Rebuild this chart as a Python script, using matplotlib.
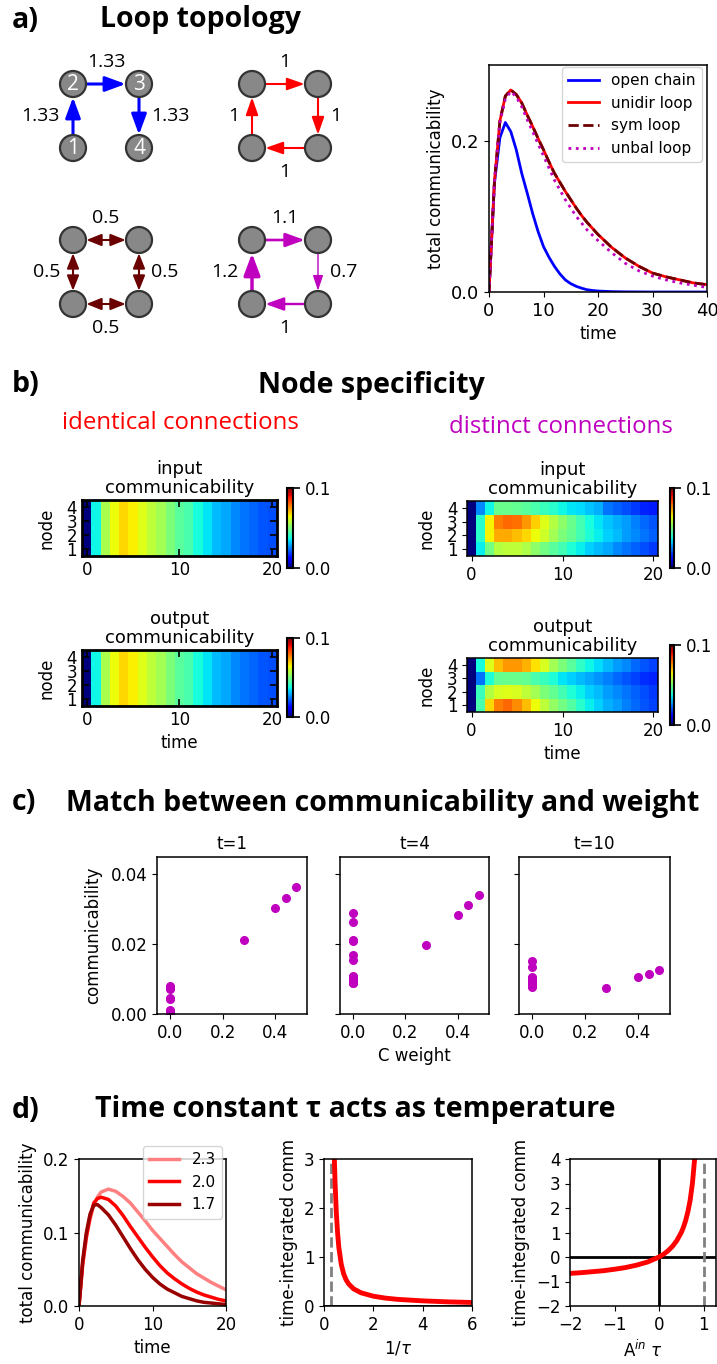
import matplotlib
matplotlib.use('Agg')
import matplotlib.pyplot as plt
from matplotlib.patches import Circle
import numpy as np

W, H = 717, 1364

# ---------------- data ----------------
# a) total communicability vs time
t_a = [0, 1, 2, 3, 4, 5, 6, 7, 8, 9, 10, 11, 12, 13, 14, 15, 16, 17, 18, 19, 20,
       22.5, 25, 27.5, 30, 32.5, 35, 37.5, 40]
open_chain = [0, 0.144, 0.204, 0.224, 0.212, 0.188, 0.157, 0.131, 0.104, 0.080, 0.060,
              0.046, 0.034, 0.024, 0.016, 0.011, 0.0075, 0.005, 0.003, 0.002, 0.0013,
              0.0005, 0.0002, 0.0001, 0, 0, 0, 0, 0]
unidir_loop = [0, 0.146, 0.226, 0.259, 0.267, 0.261, 0.250, 0.234, 0.219, 0.203, 0.188,
               0.172, 0.157, 0.145, 0.133, 0.122, 0.111, 0.101, 0.092, 0.084, 0.076,
               0.059, 0.045, 0.034, 0.025, 0.020, 0.016, 0.012, 0.0097]
sym_loop = [0, 0.146, 0.226, 0.259, 0.267, 0.261, 0.250, 0.234, 0.219, 0.203, 0.188,
            0.172, 0.157, 0.145, 0.133, 0.122, 0.111, 0.101, 0.092, 0.084, 0.076,
            0.059, 0.045, 0.034, 0.025, 0.020, 0.016, 0.012, 0.0097]
unbal_loop = [0, 0.146, 0.224, 0.255, 0.265, 0.258, 0.245, 0.228, 0.212, 0.196, 0.180,
              0.164, 0.148, 0.135, 0.122, 0.111, 0.100, 0.091, 0.082, 0.075, 0.068,
              0.052, 0.038, 0.028, 0.021, 0.016, 0.012, 0.009, 0.006]

# a) graph edges: (source, target, label, side, linewidth); corners 0=BL 1=TL 2=TR 3=BR
chain_edges = [(0, 1, '1.33', 'left', 2.2), (1, 2, '1.33', 'top', 2.2), (2, 3, '1.33', 'right', 2.2)]
unidir_edges = [(0, 1, '1', 'left', 1.5), (1, 2, '1', 'top', 1.5),
                (2, 3, '1', 'right', 1.5), (3, 0, '1', 'bottom', 1.5)]
sym_edges = [(0, 1, '0.5', 'left', 1.5), (1, 2, '0.5', 'top', 1.5),
             (2, 3, '0.5', 'right', 1.5), (3, 0, '0.5', 'bottom', 1.5)]
unbal_edges = [(0, 1, '1.2', 'left', 2.5), (1, 2, '1.1', 'top', 1.9),
               (2, 3, '0.7', 'right', 1.0), (3, 0, '1', 'bottom', 1.7)]
chain_node_names = ['1', '2', '3', '4']

# b) node communicability (rows = node 1..4, columns = time 0..20)
ident_col = [0, 0.037, 0.0555, 0.064, 0.068, 0.0655, 0.062, 0.058, 0.055, 0.050, 0.046,
             0.044, 0.038, 0.035, 0.031, 0.029, 0.026, 0.024, 0.0225, 0.021, 0.020]
dist_in = [
    [0, 0.036, 0.049, 0.057, 0.058, 0.058, 0.056, 0.052, 0.049, 0.046, 0.043,
     0.039, 0.036, 0.033, 0.031, 0.029, 0.026, 0.024, 0.022, 0.020, 0.018],
    [0, 0.040, 0.065, 0.073, 0.073, 0.071, 0.068, 0.064, 0.060, 0.055, 0.050,
     0.047, 0.043, 0.039, 0.036, 0.033, 0.031, 0.028, 0.026, 0.024, 0.022],
    [0, 0.040, 0.065, 0.0775, 0.080, 0.079, 0.075, 0.069, 0.062, 0.057, 0.052,
     0.048, 0.043, 0.038, 0.035, 0.032, 0.030, 0.028, 0.025, 0.023, 0.021],
    [0, 0.026, 0.037, 0.048, 0.048, 0.047, 0.046, 0.044, 0.042, 0.040, 0.037,
     0.035, 0.034, 0.032, 0.030, 0.024, 0.022, 0.020, 0.018, 0.016, 0.015],
]
dist_out = [
    [0, 0.044, 0.068, 0.0775, 0.080, 0.076, 0.071, 0.064, 0.058, 0.053, 0.049,
     0.045, 0.040, 0.036, 0.033, 0.030, 0.028, 0.025, 0.023, 0.021, 0.019],
    [0, 0.042, 0.057, 0.061, 0.062, 0.061, 0.058, 0.055, 0.050, 0.047, 0.043,
     0.039, 0.036, 0.033, 0.031, 0.028, 0.026, 0.024, 0.022, 0.020, 0.018],
    [0, 0.024, 0.039, 0.047, 0.048, 0.048, 0.047, 0.044, 0.042, 0.039, 0.035,
     0.033, 0.031, 0.029, 0.027, 0.025, 0.023, 0.021, 0.019, 0.017, 0.016],
    [0, 0.038, 0.062, 0.071, 0.075, 0.075, 0.072, 0.067, 0.061, 0.055, 0.050,
     0.046, 0.041, 0.037, 0.034, 0.031, 0.028, 0.026, 0.023, 0.021, 0.019],
]

# c) communicability vs C weight
c_titles = ['t=1', 't=4', 't=10']
c_weight = [0, 0, 0, 0, 0, 0, 0, 0, 0, 0, 0, 0, 0.28, 0.40, 0.44, 0.48]
comm_t1 = [0.0079, 0.0075, 0.0071, 0.0045, 0.0043, 0.0012, 0.0009, 0.0006,
           0.0004, 0.0003, 0.0002, 0.0001, 0.0212, 0.0303, 0.0333, 0.0364]
comm_t4 = [0.0290, 0.0263, 0.0212, 0.0210, 0.0169, 0.0155, 0.0110, 0.0105,
           0.0100, 0.0095, 0.0090, 0.0088, 0.0199, 0.0284, 0.0312, 0.0341]
comm_t10 = [0.0153, 0.0136, 0.0107, 0.0102, 0.0097, 0.0093, 0.0090, 0.0088,
            0.0085, 0.0082, 0.0080, 0.0078, 0.0074, 0.0106, 0.0115, 0.0126]

# d) time constant
t_d = [0, 0.5, 1, 1.5, 2, 2.5, 3, 4, 5, 6, 7, 8, 9, 10, 11, 12, 13, 14, 15, 16, 17, 18, 19, 20]
tau_labels = ['2.3', '2.0', '1.7']
comm_tau23 = [0, 0.055, 0.092, 0.118, 0.137, 0.148, 0.155, 0.159, 0.156, 0.149, 0.140,
              0.128, 0.116, 0.103, 0.092, 0.081, 0.070, 0.060, 0.052, 0.044, 0.038,
              0.032, 0.027, 0.022]
comm_tau20 = [0, 0.058, 0.095, 0.121, 0.140, 0.146, 0.148, 0.145, 0.136, 0.123, 0.108,
              0.094, 0.080, 0.067, 0.055, 0.045, 0.037, 0.030, 0.024, 0.019, 0.015,
              0.012, 0.009, 0.007]
comm_tau17 = [0, 0.062, 0.100, 0.125, 0.137, 0.138, 0.134, 0.124, 0.110, 0.094, 0.078,
              0.063, 0.050, 0.039, 0.030, 0.023, 0.018, 0.013, 0.010, 0.007, 0.005,
              0.004, 0.003, 0.002]
inv_tau = [0.42, 0.45, 0.5, 0.55, 0.6, 0.7, 0.8, 0.9, 1.0, 1.2, 1.5, 2.0, 2.5, 3.0, 4.0, 5.0, 6.0]
integ_inv_tau = [3.0, 2.5, 1.9, 1.5, 1.2, 0.85, 0.65, 0.53, 0.45, 0.35, 0.27, 0.20, 0.16,
                 0.135, 0.105, 0.085, 0.072]
a_tau = [-2, -1.75, -1.5, -1.25, -1, -0.75, -0.5, -0.25, 0, 0.1, 0.2, 0.3, 0.4, 0.5,
         0.55, 0.6, 0.65, 0.7, 0.75, 0.8]
integ_a_tau = [-0.67, -0.64, -0.6, -0.56, -0.5, -0.43, -0.33, -0.2, 0, 0.11, 0.25, 0.43,
               0.67, 1.0, 1.22, 1.5, 1.86, 2.33, 3.0, 4.0]

maroon = '#6b0000'
# ---------------------------------------

plt.rcParams['font.family'] = ['DejaVu Sans']
plt.rcParams['font.size'] = 12
plt.rcParams['axes.linewidth'] = 1.1

fig = plt.figure(figsize=(W / 100, H / 100), dpi=100)


def px_axes(l, t, r, b):
    return fig.add_axes([l / W, 1 - b / H, (r - l) / W, (b - t) / H])


def px_text(x, y, s, **kw):
    fig.text(x / W, 1 - y / H, s, **kw)


def heading(y, letter, title, xc):
    px_text(12, y, letter, fontsize=20.5, fontweight='bold', family='Open Sans', va='center')
    px_text(xc, y, title, fontsize=20.5, fontweight='bold', family='Open Sans',
            va='center', ha='center')


# ---------- a) ----------
heading(20, 'a)', 'Loop topology', 201)

axg = px_axes(0, 40, 360, 350)
axg.set_xlim(0, 360)
axg.set_ylim(350, 40)
axg.axis('off')

dx, dy = 66, 64
corner = {0: (0, 1), 1: (0, 0), 2: (1, 0), 3: (1, 1)}
graphs = [((73, 84), chain_edges, 'blue', '-|>', True),
          ((252, 84), unidir_edges, 'red', '-|>', False),
          ((73, 240), sym_edges, maroon, '<|-|>', False),
          ((252, 240), unbal_edges, 'm', '-|>', False)]
for (x0, y0), edges, col, style, named in graphs:
    pos = {k: (x0 + cx * dx, y0 + cy * dy) for k, (cx, cy) in corner.items()}
    for k, (px, py) in pos.items():
        axg.add_patch(Circle((px, py), 13, facecolor='#888888', edgecolor='#333333',
                             lw=1.6, zorder=3))
    if named:
        for k, name in zip([0, 1, 2, 3], chain_node_names):
            axg.text(*pos[k], name, color='white', fontsize=15, family='Open Sans',
                     ha='center', va='center', zorder=4)
    for s, d, lab, side, lw in edges:
        if style == '<|-|>':
            hl, hw = 0.75, 0.3
        else:
            hl = 0.55 + 0.22 * lw
            hw = 0.16 + 0.1 * lw
        axg.annotate('', xy=pos[d], xytext=pos[s],
                     arrowprops=dict(arrowstyle='%s,head_length=%.2f,head_width=%.2f' % (style, hl, hw),
                                     color=col, lw=lw, mutation_scale=12,
                                     shrinkA=9.6, shrinkB=9.6), zorder=2)
        xa, xb = x0, x0 + dx
        ya, yb = y0, y0 + dy
        kw = dict(va='center', fontsize=14, family='Open Sans')
        if side == 'top':
            axg.text((xa + xb) / 2, ya - 22, lab, ha='center', **kw)
        elif side == 'bottom':
            axg.text((xa + xb) / 2, yb + 24, lab, ha='center', **kw)
        elif side == 'left':
            axg.text(xa - 13, (ya + yb) / 2, lab, ha='right', **kw)
        else:
            axg.text(xb + 12, (ya + yb) / 2, lab, ha='left', **kw)

ax = px_axes(489, 65, 707, 292)
ax.plot(t_a, open_chain, color='blue', lw=2, label='open chain')
ax.plot(t_a, unidir_loop, color='red', lw=2, label='unidir loop')
ax.plot(t_a, sym_loop, color=maroon, lw=2, ls='--', label='sym loop')
ax.plot(t_a, unbal_loop, color='m', lw=2, ls=':', label='unbal loop')
ax.set_xlim(0, 40)
ax.set_ylim(0, 0.3)
ax.set_xticks([0, 10, 20, 30, 40])
ax.set_yticks([0, 0.2])
ax.set_yticklabels(['0.0', '0.2'])
ax.tick_params(labelsize=13)
ax.set_xlabel('time')
ax.set_ylabel('total communicability')
ax.legend(loc='upper right', bbox_to_anchor=(1.01, 1.025), fontsize=11)

# ---------- b) ----------
heading(385, 'b)', 'Node specificity', 371)
px_text(180, 423, 'identical connections', color='red', fontsize=17.3, family='Open Sans',
        ha='center', va='center')
px_text(561, 427, 'distinct connections', color='m', fontsize=17.3, family='Open Sans',
        ha='center', va='center')

ident = np.tile(ident_col, (4, 1))
heat_specs = [((82, 500, 277, 556), (287, 488, 293, 568), ident, 'input', True, False),
              ((82, 650, 277, 706), (287, 638, 293, 717), ident, 'output', True, True),
              ((467, 501, 658, 556), (670, 488, 674, 568), np.array(dist_in), 'input', False, False),
              ((467, 658, 658, 712), (670, 645, 674, 725), np.array(dist_out), 'output', False, True)]
for box, cbox, data, kind, inward, bottom in heat_specs:
    ax = px_axes(*box)
    im = ax.imshow(data, cmap='jet', vmin=0, vmax=0.1, aspect='auto', origin='lower',
                   extent=(-0.5, 20.5, 0.5, 4.5), interpolation='nearest')
    ax.set_xticks([0, 10, 20])
    ax.set_yticks([1, 2, 3, 4])
    ax.set_ylabel('node', labelpad=8)
    ax.set_title(kind + '\ncommunicability', fontsize=13, pad=5, linespacing=1.05)
    if inward:
        ax.tick_params(direction='in', top=True, right=True, length=5, width=1.2)
        for sp in ax.spines.values():
            sp.set_linewidth(2)
    if bottom:
        ax.set_xlabel('time')
    cax = px_axes(*cbox)
    cb = fig.colorbar(im, cax=cax, ticks=[0, 0.1])
    cb.ax.set_yticklabels(['0.0', '0.1'])
    cb.ax.tick_params(length=5, width=1.2)
    cb.outline.set_linewidth(1.5)

# ---------- c) ----------
heading(803, 'c)', 'Match between communicability and weight', 383)
c_boxes = [(157, 857, 307, 1014), (340, 857, 489, 1014), (519, 857, 670, 1014)]
for i, (box, title, vals) in enumerate(zip(c_boxes, c_titles, [comm_t1, comm_t4, comm_t10])):
    ax = px_axes(*box)
    ax.plot(c_weight, vals, 'o', color='m', ms=5.5)
    ax.set_xlim(-0.05, 0.52)
    ax.set_ylim(0, 0.045)
    ax.set_xticks([0, 0.2, 0.4])
    ax.set_yticks([0, 0.02, 0.04])
    ax.set_title(title, fontsize=12)
    if i == 0:
        ax.set_ylabel('communicability', labelpad=6)
    else:
        ax.set_yticklabels([])
    if i == 1:
        ax.set_xlabel('C weight')

# ---------- d) ----------
heading(1110, 'd)', 'Time constant \u03c4 acts as temperature', 355)

ax = px_axes(79, 1159, 226, 1306)
ax.plot(t_d, comm_tau23, color='#ff8080', lw=2.5, label=tau_labels[0])
ax.plot(t_d, comm_tau20, color='red', lw=2.5, label=tau_labels[1])
ax.plot(t_d, comm_tau17, color='#990000', lw=2.5, label=tau_labels[2])
ax.set_xlim(0, 20)
ax.set_ylim(0, 0.2)
ax.set_xticks([0, 10, 20])
ax.set_yticks([0, 0.1, 0.2])
ax.set_xlabel('time')
ax.set_ylabel('total communicability')
ax.legend(loc='upper right', bbox_to_anchor=(1.025, 1.14), fontsize=11)

ax = px_axes(324, 1159, 472, 1306)
ax.axvline(0.3, color='grey', ls='--', lw=2)
ax.axhline(0, color='k', lw=2)
ax.plot(inv_tau, integ_inv_tau, color='red', lw=3.5)
ax.set_xlim(0, 6)
ax.set_ylim(0, 3)
ax.set_xticks([0, 2, 4, 6])
ax.set_yticks([0, 1, 2, 3])
ax.set_xlabel('1/$\\tau$')
ax.set_ylabel('time-integrated comm')

ax = px_axes(570, 1159, 716, 1306)
ax.axhline(0, color='k', lw=2)
ax.axvline(0, color='k', lw=2)
ax.axvline(1, color='grey', ls='--', lw=2)
ax.plot(a_tau, integ_a_tau, color='red', lw=3.5)
ax.set_xlim(-2, 1.28)
ax.set_ylim(-2, 4)
ax.set_xticks([-2, -1, 0, 1])
ax.set_yticks([-2, -1, 0, 1, 2, 3, 4])
ax.set_xlabel('A$^{in}$ $\\tau$')
ax.set_ylabel('time-integrated comm')

fig.savefig('out.png', dpi=100)
